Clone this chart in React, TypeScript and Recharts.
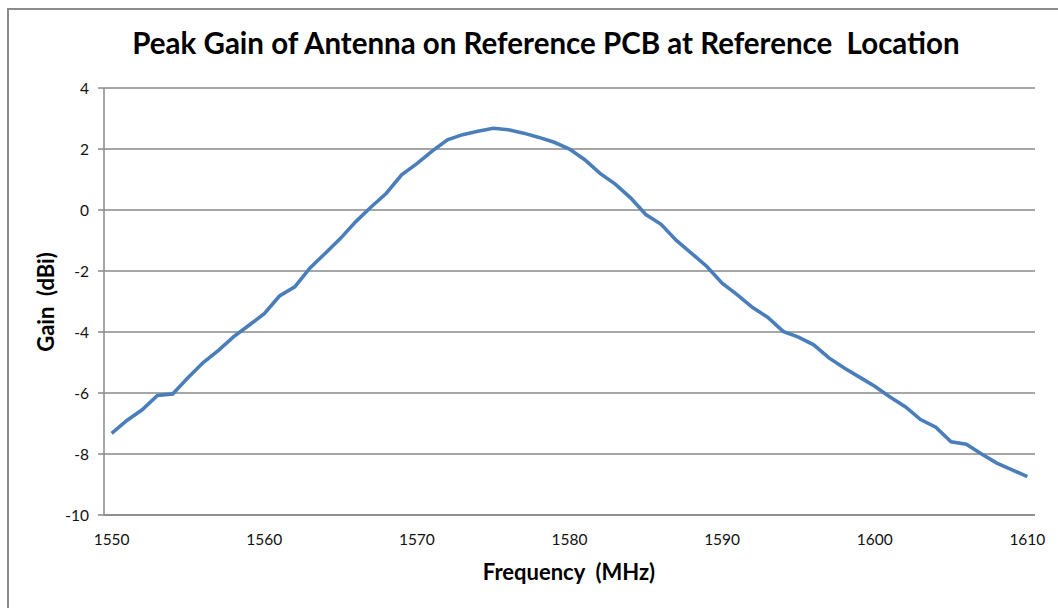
import React from 'react';
import { LineChart, Line, XAxis, YAxis, CartesianGrid } from 'recharts';

const frequencies: number[] = [
  1550, 1551, 1552, 1553, 1554, 1555, 1556, 1557, 1558, 1559,
  1560, 1561, 1562, 1563, 1564, 1565, 1566, 1567, 1568, 1569,
  1570, 1571, 1572, 1573, 1574, 1575, 1576, 1577, 1578, 1579,
  1580, 1581, 1582, 1583, 1584, 1585, 1586, 1587, 1588, 1589,
  1590, 1591, 1592, 1593, 1594, 1595, 1596, 1597, 1598, 1599,
  1600, 1601, 1602, 1603, 1604, 1605, 1606, 1607, 1608, 1609,
  1610,
];

const gainDbi: number[] = [
  -7.32, -6.9, -6.55, -6.08, -6.03, -5.5, -5.0, -4.6, -4.15, -3.78,
  -3.4, -2.82, -2.52, -1.9, -1.42, -0.93, -0.38, 0.1, 0.55, 1.15,
  1.52, 1.93, 2.3, 2.47, 2.58, 2.68, 2.63, 2.52, 2.38, 2.22,
  2.0, 1.65, 1.2, 0.85, 0.4, -0.15, -0.47, -1.0, -1.42, -1.85,
  -2.4, -2.78, -3.2, -3.52, -3.98, -4.17, -4.42, -4.85, -5.18, -5.48,
  -5.78, -6.13, -6.45, -6.87, -7.12, -7.6, -7.68, -8.0, -8.3, -8.52,
  -8.74,
];

const xTicks: number[] = [1550, 1560, 1570, 1580, 1590, 1600, 1610];
const yTicks: number[] = [-10, -8, -6, -4, -2, 0, 2, 4];

const title = 'Peak Gain of Antenna on Reference PCB at Reference  Location';
const xLabel = 'Frequency  (MHz)';
const yLabel = 'Gain  (dBi)';

const data = frequencies.map((f, i) => ({ freq: f, gain: gainDbi[i] }));

const FONT = 'Lato, "Open Sans", sans-serif';
const GRID = '#898989';

export default function App() {
  return (
    <div style={{ position: 'absolute', left: 0, top: 0, width: 1058, height: 608, background: '#fff', overflow: 'hidden', fontFamily: FONT }}>
      <div style={{ position: 'absolute', left: 7, top: 8, width: 1100, height: 700, borderLeft: '2px solid #8c8c8c', borderTop: '2px solid #8c8c8c', boxSizing: 'border-box' }} />
      <div style={{ position: 'absolute', left: 0, top: 0 }}>
        <LineChart
          width={1058}
          height={608}
          data={data}
          margin={{ top: 88, right: 23, left: 44, bottom: 63 }}
        >
          <CartesianGrid vertical={false} stroke={GRID} strokeWidth={1.5} />
          <XAxis
            dataKey="freq"
            type="number"
            domain={[1549.5, 1610.5]}
            ticks={xTicks}
            interval={0}
            tickLine={false}
            tickSize={0}
            tickMargin={19}
            height={30}
            axisLine={{ stroke: GRID, strokeWidth: 1.5 }}
            tick={{ fill: '#111', fontSize: 15.5, fontFamily: FONT }}
          />
          <YAxis
            type="number"
            domain={[-10, 4]}
            ticks={yTicks}
            interval={0}
            width={60}
            tickSize={6}
            tickMargin={9}
            tickLine={{ stroke: GRID, strokeWidth: 1.5 }}
            axisLine={{ stroke: GRID, strokeWidth: 1.5 }}
            tick={{ fill: '#111', fontSize: 15.5, fontFamily: FONT }}
          />
          <Line
            type="linear"
            dataKey="gain"
            stroke="#4A7EBB"
            strokeWidth={3.6}
            dot={false}
            isAnimationActive={false}
          />
        </LineChart>
      </div>
      <div style={{ position: 'absolute', left: 0, width: 1092, top: 25, textAlign: 'center', fontSize: 29.5, fontWeight: 700, color: '#000', whiteSpace: 'pre' }}>
        {title}
      </div>
      <div style={{ position: 'absolute', left: 0, width: 1138, top: 558, textAlign: 'center', fontSize: 22, fontWeight: 700, color: '#000', whiteSpace: 'pre' }}>
        {xLabel}
      </div>
      <div style={{ position: 'absolute', left: 45, top: 302, width: 0, height: 0 }}>
        <div style={{ position: 'absolute', left: 0, top: 0, transform: 'translate(-50%, -50%) rotate(-90deg)', fontSize: 22, fontWeight: 700, color: '#000', whiteSpace: 'pre' }}>
          {yLabel}
        </div>
      </div>
    </div>
  );
}
